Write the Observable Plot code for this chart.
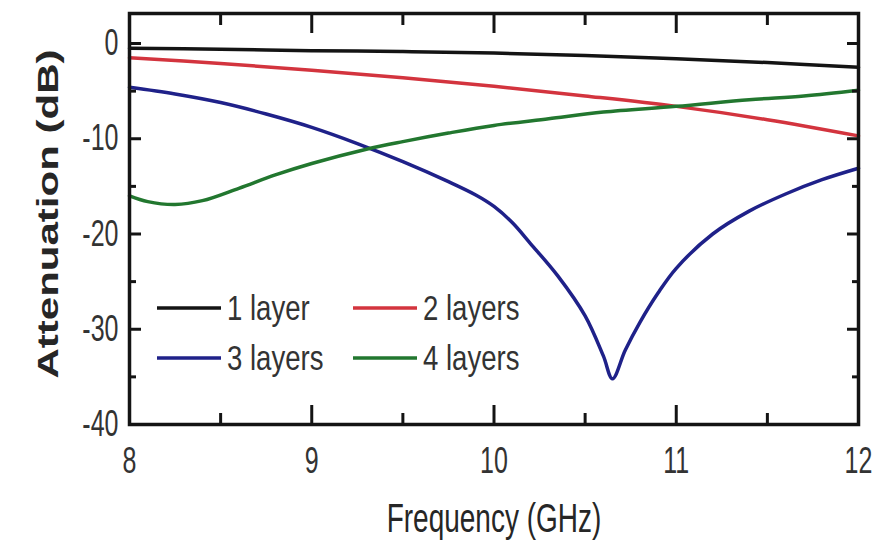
<!DOCTYPE html>
<html><head><meta charset="utf-8">
<script src="https://cdn.jsdelivr.net/npm/d3@7"></script>
<script src="https://cdn.jsdelivr.net/npm/@observablehq/plot@0.6"></script>
<style>
html,body{margin:0;padding:0;background:#fff;}
#wrap{position:relative;width:873px;height:543px;}
</style></head><body><div id="wrap"></div>
<script>
// ---- data ----
const seriesNames = ["1 layer", "2 layers", "3 layers", "4 layers"];
const seriesColors = ["#141414", "#d3343e", "#1f2189", "#22772f"];

const freq1 = [8, 8.5, 9, 9.5, 10, 10.5, 11, 11.5, 12];
const att1  = [-0.5, -0.6, -0.75, -0.85, -1.0, -1.25, -1.6, -2.0, -2.5];

const freq2 = [8, 8.5, 9, 9.5, 10, 10.5, 11, 11.5, 12];
const att2  = [-1.5, -2.1, -2.8, -3.6, -4.5, -5.5, -6.6, -8.0, -9.7];

const freq3 = [8, 8.25, 8.5, 8.75, 9, 9.25, 9.5, 9.75, 9.9, 10, 10.1, 10.2, 10.35, 10.5, 10.6, 10.65, 10.72, 10.8, 10.9, 11, 11.2, 11.4, 11.6, 11.8, 12];
const att3  = [-4.6, -5.3, -6.2, -7.4, -8.8, -10.5, -12.4, -14.5, -15.9, -17.1, -18.8, -21.0, -24.4, -28.6, -32.8, -35.2, -32.2, -29.3, -26.2, -23.6, -20.0, -17.6, -15.8, -14.3, -13.1];

const freq4 = [8, 8.1, 8.25, 8.4, 8.6, 8.8, 9, 9.3, 9.5, 9.75, 10, 10.3, 10.6, 11, 11.4, 11.7, 12];
const att4  = [-16.0, -16.6, -16.9, -16.5, -15.2, -13.8, -12.6, -11.1, -10.3, -9.4, -8.6, -7.9, -7.2, -6.6, -5.9, -5.5, -4.9];

const xMajorTicks = [8, 9, 10, 11, 12];
const xMinorTicks = [8.5, 9.5, 10.5, 11.5];
const yMajorTicks = [0, -10, -20, -30, -40];
const yMinorTicks = [-5, -15, -25, -35];
const xTitle = "Frequency (GHz)";
const yTitle = "Attenuation (dB)";

// ---- build table ----
const freqs = [freq1, freq2, freq3, freq4];
const atts = [att1, att2, att3, att4];
const rows = [];
seriesNames.forEach((s, k) => freqs[k].forEach((f, i) => rows.push({series: s, f, a: atts[k][i]})));

const font = "'Liberation Sans', Arial, Helvetica, sans-serif";

const chart = Plot.plot({
  width: 873, height: 543,
  marginLeft: 129, marginRight: 15, marginTop: 13, marginBottom: 119,
  style: {fontFamily: font, background: "transparent", overflow: "visible"},
  x: {domain: [8, 12]},
  y: {domain: [-40, 3.15]},
  color: {domain: seriesNames, range: seriesColors},
  marks: [
    Plot.line(rows, {x: "f", y: "a", z: "series", stroke: "series", strokeWidth: 3.5, curve: "catmull-rom"}),
    // inward ticks, all four sides
    Plot.axisX(xMajorTicks, {anchor: "bottom", tickSize: -19, strokeWidth: 3, stroke: "#141414", fill: "none", label: null}),
    Plot.axisX(xMinorTicks, {anchor: "bottom", tickSize: -11, strokeWidth: 3, stroke: "#141414", fill: "none", label: null}),
    Plot.axisX(xMajorTicks, {anchor: "top", tickSize: -19, strokeWidth: 3, stroke: "#141414", fill: "none", label: null}),
    Plot.axisX(xMinorTicks, {anchor: "top", tickSize: -11, strokeWidth: 3, stroke: "#141414", fill: "none", label: null}),
    Plot.axisY(yMajorTicks, {anchor: "left", tickSize: -12, strokeWidth: 3, stroke: "#141414", fill: "none", label: null}),
    Plot.axisY(yMinorTicks, {anchor: "left", tickSize: -7, strokeWidth: 3, stroke: "#141414", fill: "none", label: null}),
    Plot.axisY(yMajorTicks, {anchor: "right", tickSize: -12, strokeWidth: 3, stroke: "#141414", fill: "none", label: null}),
    Plot.axisY(yMinorTicks, {anchor: "right", tickSize: -7, strokeWidth: 3, stroke: "#141414", fill: "none", label: null}),
    // tick labels
    Plot.axisX(xMajorTicks, {anchor: "bottom", tickSize: 0, tickPadding: 23, fontSize: 25, fill: "#333", label: null, tickFormat: d3.format("d")}),
    Plot.axisY(yMajorTicks, {anchor: "left", tickSize: 0, tickPadding: 11, fontSize: 25, fill: "#333", label: null, tickFormat: d => d === 0 ? "0" : "-" + Math.abs(d)}),
    // axis titles
    Plot.text([xTitle], {text: d => d, frameAnchor: "bottom", dy: 79, lineAnchor: "top", fontSize: 28, fill: "#262626"}),
    Plot.text([yTitle], {text: d => d, frameAnchor: "left", dx: -81, dy: -5, rotate: -90, lineAnchor: "middle", textAnchor: "middle", fontSize: 29, fontWeight: "bold", fill: "#262626"}),
    Plot.frame({stroke: "#141414", strokeWidth: 3.5})
  ]
});

// stretch texts vertically (the reference type is tall)
d3.select(chart).selectAll("text").each(function() {
  const t = this.getAttribute("transform") || "";
  this.setAttribute("transform", t + (t.includes("rotate") ? " scale(1.45,1)" : " scale(1,1.45)"));
});

// legend inside the plot
const legendCols = [157, 353];
const legendRows = [308, 358];
const legendLineLen = 64;
const svg = d3.select(chart);
const lg = svg.append("g").attr("aria-label", "legend").attr("font-family", font).attr("text-anchor", "start");
seriesNames.forEach((name, i) => {
  const cx = legendCols[i % 2], cy = legendRows[Math.floor(i / 2)];
  lg.append("line").attr("x1", cx).attr("x2", cx + legendLineLen).attr("y1", cy).attr("y2", cy)
    .attr("stroke", seriesColors[i]).attr("stroke-width", 3.5);
  lg.append("text").attr("text-anchor", "start")
    .attr("transform", `translate(${cx + legendLineLen + 6},${cy}) scale(0.95,1.22)`)
    .attr("dy", "0.35em").attr("font-size", 29).attr("fill", "#333").text(name);
});

document.getElementById("wrap").appendChild(chart);
</script>
</body></html>
